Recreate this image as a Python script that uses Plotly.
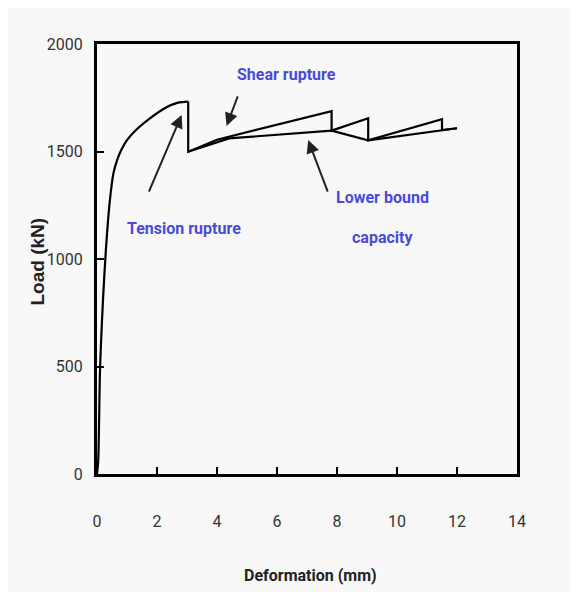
import plotly.graph_objects as go

# Load–deformation response (initial rising curve up to tension rupture)
curve_x = [0, 0.04, 0.10, 0.20, 0.30, 0.43, 0.55, 0.67, 0.80, 1.00, 1.30, 1.70, 2.27, 2.70, 3.04]
curve_y = [0, 60, 480, 810, 1050, 1274, 1400, 1460, 1505, 1553, 1600, 1647, 1702, 1727, 1732]

# Shear rupture sawtooth (upper), starting with the tension-rupture drop
shear_x = [3.04, 3.04, 4.0, 7.82, 7.82, 9.04, 9.04, 11.5, 11.5, 12.0]
shear_y = [1732, 1499, 1555, 1688, 1597, 1655, 1552, 1650, 1600, 1608]

# Lower bound capacity
lower_x = [3.04, 4.4, 7.82, 9.04, 12.0]
lower_y = [1499, 1561, 1597, 1552, 1608]

x_ticks = [0, 2, 4, 6, 8, 10, 12, 14]
y_ticks = [0, 500, 1000, 1500, 2000]

FONT = "Roboto, Liberation Sans, Arial, sans-serif"
BLUE = "#4a4ad8"

fig = go.Figure()
fig.add_trace(go.Scatter(x=curve_x, y=curve_y, mode="lines", line_shape="spline",
                         line=dict(color="black", width=2.2, smoothing=0.8),
                         showlegend=False, hoverinfo="skip"))
for xs, ys in [(shear_x, shear_y), (lower_x, lower_y)]:
    fig.add_trace(go.Scatter(x=xs, y=ys, mode="lines",
                             line=dict(color="black", width=2.2),
                             showlegend=False, hoverinfo="skip"))

# Arrows (head x,y ; tail x,y) in data coordinates
arrows = [
    (2.82, 1670, 1.71, 1306),
    (4.32, 1619, 4.71, 1763),
    (7.04, 1553, 7.71, 1306),
]
for hx, hy, tx, ty in arrows:
    fig.add_annotation(x=hx, y=hy, ax=tx, ay=ty, xref="x", yref="y",
                       axref="x", ayref="y", text="", showarrow=True,
                       arrowhead=2, arrowsize=1.3, arrowwidth=2,
                       arrowcolor="#222")

labels = [
    ("Shear rupture", 6.33, 1856),
    ("Tension rupture", 2.9, 1144),
    ("Lower bound", 9.53, 1288),
    ("capacity", 9.53, 1098),
]
for t, x, y in labels:
    fig.add_annotation(x=x, y=y, xref="x", yref="y", text=t, showarrow=False,
                       font=dict(family=FONT, size=16, color=BLUE, weight="bold"),
                       xanchor="center", yanchor="middle")

# Axis titles (positions relative to plot area: x 97..517, y 44..474 on screen)
fig.add_annotation(text="Deformation (mm)", xref="paper", yref="paper",
                   x=(310 - 97) / 420, y=(474 - 575) / 430,
                   xanchor="center", yanchor="middle", showarrow=False,
                   font=dict(family=FONT, size=16, color="#222", weight="bold"))
fig.add_annotation(text="<b>Load (kN)</b>", xref="paper", yref="paper",
                   x=(37.5 - 97) / 420, y=(474 - 262) / 430, textangle=-90,
                   showarrow=False, xanchor="center", yanchor="middle",
                   font=dict(family="Liberation Sans, Arial, sans-serif", size=19, color="#222"))

fig.update_xaxes(range=[0, 14], tickvals=x_ticks, ticktext=[str(v) for v in x_ticks],
                 showgrid=False, zeroline=False, showline=True, linecolor="black",
                 linewidth=3, mirror=True, ticks="inside", ticklen=7, tickwidth=2,
                 tickcolor="black", ticklabelstandoff=31,
                 tickfont=dict(family=FONT, size=16, color="#333"))
fig.update_yaxes(range=[0, 2000], tickvals=y_ticks, ticktext=[str(v) for v in y_ticks],
                 showgrid=False, zeroline=False, showline=True, linecolor="black",
                 linewidth=3, mirror=True, ticks="inside", ticklen=7, tickwidth=2,
                 tickcolor="black", ticklabelstandoff=8,
                 tickfont=dict(family=FONT, size=16, color="#333"))

fig.update_layout(width=571, height=584,
                  margin=dict(l=89, r=62, t=36, b=118),
                  paper_bgcolor="#f8f8f8", plot_bgcolor="#f8f8f8")

fig.write_html("out.html")
